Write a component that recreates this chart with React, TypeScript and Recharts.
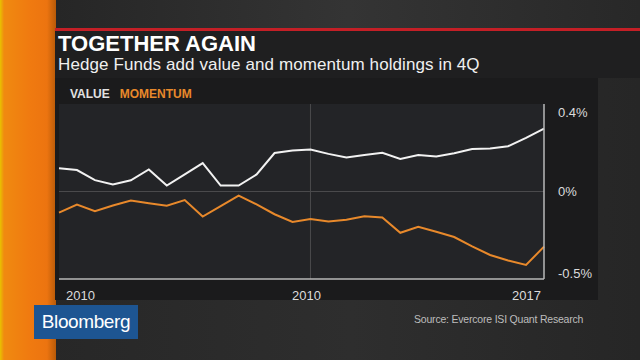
import React from "react";
import {
  LineChart,
  Line,
  XAxis,
  YAxis,
  CartesianGrid,
  ReferenceLine,
} from "recharts";

// Trimestres 2011 T1 .. 2017 T4 (28 points)
const quarters = [
  "1Q11", "2Q11", "3Q11", "4Q11",
  "1Q12", "2Q12", "3Q12", "4Q12",
  "1Q13", "2Q13", "3Q13", "4Q13",
  "1Q14", "2Q14", "3Q14", "4Q14",
  "1Q15", "2Q15", "3Q15", "4Q15",
  "1Q16", "2Q16", "3Q16", "4Q16",
  "1Q17", "2Q17", "3Q17", "4Q17",
];

const valueSeries = [
  0.106, 0.098, 0.052, 0.032, 0.051, 0.101, 0.027, 0.078,
  0.13, 0.027, 0.027, 0.078, 0.176, 0.187, 0.192, 0.172,
  0.155, 0.167, 0.177, 0.149, 0.167, 0.16, 0.175, 0.194,
  0.197, 0.207, 0.245, 0.287,
];

const momentumSeries = [
  -0.121, -0.075, -0.113, -0.08, -0.051, -0.067, -0.081, -0.049,
  -0.143, -0.083, -0.023, -0.074, -0.13, -0.174, -0.157, -0.171,
  -0.162, -0.142, -0.149, -0.236, -0.202, -0.23, -0.26, -0.314,
  -0.363, -0.394, -0.42, -0.315,
];

const xTickIndex = [0, 14, 27];
const xTickLabels = ["2010", "2010", "2017"];
const valueTicks = [0, 0.4];
const momentumTicks = [-0.5];

const data = quarters.map((q, i) => ({
  q,
  value: valueSeries[i],
  momentum: momentumSeries[i],
}));

const FONT = "'Liberation Sans', Arial, sans-serif";

function XTick(props: any) {
  const { x, y, payload } = props;
  const idx = xTickIndex.indexOf(quarters.indexOf(payload.value));
  if (idx < 0) return null;
  const anchor = idx === 0 ? "start" : idx === xTickIndex.length - 1 ? "end" : "middle";
  const dx = idx === 0 ? 7 : idx === xTickIndex.length - 1 ? -3 : -4;
  return (
    <text
      x={x + dx}
      y={y + 13}
      textAnchor={anchor}
      fill="#dcdcdc"
      fontSize={13}
      fontFamily={FONT}
    >
      {xTickLabels[idx]}
    </text>
  );
}

function YTick(props: any) {
  const { x, y, payload } = props;
  const v = payload.value;
  // étiquettes extrêmes rentrées dans la zone
  const dy = v > 0 ? 8 : v < 0 ? -6 : 0;
  return (
    <text
      x={x}
      y={y + dy}
      dy="0.35em"
      textAnchor="start"
      fill="#dcdcdc"
      fontSize={13}
      fontFamily={FONT}
    >
      {`${v}%`}
    </text>
  );
}

export default function App() {
  return (
    <div
      style={{
        position: "absolute",
        left: 0,
        top: 0,
        width: 640,
        height: 360,
        overflow: "hidden",
        background: "linear-gradient(90deg, #262626 0%, #2e2e2e 55%, #262626 100%)",
        fontFamily: FONT,
      }}
    >
      {/* bande orange à gauche */}
      <div
        style={{
          position: "absolute",
          left: 0,
          top: 0,
          width: 56,
          height: 360,
          background:
            "linear-gradient(90deg, #e8c200 0px, #f08a10 4px, #f07a10 30px, #ec7410 47px, #b85a08 56px)",
        }}
      />
      {/* haut texturé */}
      <div
        style={{
          position: "absolute",
          left: 56,
          top: 0,
          width: 584,
          height: 28,
          background: "linear-gradient(90deg, #262626, #343434 50%, #282828)",
        }}
      />
      {/* bande du titre */}
      <div
        style={{
          position: "absolute",
          left: 55,
          top: 28,
          width: 585,
          height: 50,
          background: "#1f1f20",
          borderTop: "3px solid #c41f26",
          boxSizing: "border-box",
        }}
      />
      <div
        style={{
          position: "absolute",
          left: 58,
          top: 31,
          color: "#ffffff",
          fontSize: 22,
          fontWeight: "bold",
        }}
      >
        TOGETHER AGAIN
      </div>
      <div
        style={{
          position: "absolute",
          left: 58,
          top: 55,
          color: "#f0f0f0",
          fontSize: 17,
          letterSpacing: 0.1,
        }}
      >
        Hedge Funds add value and momentum holdings in 4Q
      </div>
      {/* panneau du graphique */}
      <div
        style={{
          position: "absolute",
          left: 55,
          top: 78,
          width: 543,
          height: 222,
          background: "#1b1b1c",
        }}
      />
      <div
        style={{
          position: "absolute",
          left: 70,
          top: 87,
          fontSize: 12,
          fontWeight: "bold",
          whiteSpace: "nowrap",
        }}
      >
        <span style={{ color: "#e2e2e2" }}>VALUE</span>
        <span style={{ color: "#e8892b", marginLeft: 10 }}>MOMENTUM</span>
      </div>
      <div style={{ position: "absolute", left: 0, top: 0 }}>
        <LineChart
          width={640}
          height={360}
          data={data}
          margin={{ top: 104, left: 59, right: 35, bottom: 51 }}
        >
          <CartesianGrid
            horizontal={false}
            vertical={false}
            fill="#232427"
            stroke="none"
          />
          <XAxis
            dataKey="q"
            height={30}
            ticks={xTickIndex.map((i) => quarters[i])}
            tick={<XTick />}
            tickLine={false}
            axisLine={{ stroke: "#b8b8b8", strokeWidth: 1.5 }}
            interval={0}
          />
          <YAxis
            yAxisId="mom"
            orientation="right"
            domain={[-0.5, 0.5]}
            ticks={momentumTicks}
            tick={<YTick />}
            tickLine={false}
            axisLine={{ stroke: "#b8b8b8", strokeWidth: 1.5 }}
            width={1}
            tickMargin={8}
          />
          <YAxis
            yAxisId="val"
            orientation="right"
            domain={[-0.4, 0.4]}
            ticks={valueTicks}
            tick={<YTick />}
            tickLine={false}
            axisLine={false}
            width={60}
            tickMargin={7}
          />
          <ReferenceLine yAxisId="val" y={0} stroke="#4a4a4c" strokeWidth={1} />
          <ReferenceLine yAxisId="val" x={quarters[14]} stroke="#4a4a4c" strokeWidth={1} />
          <Line
            yAxisId="val"
            dataKey="value"
            stroke="#f2f2f2"
            strokeWidth={2}
            dot={false}
            isAnimationActive={false}
          />
          <Line
            yAxisId="mom"
            dataKey="momentum"
            stroke="#e8892b"
            strokeWidth={2}
            dot={false}
            isAnimationActive={false}
          />
        </LineChart>
      </div>
      {/* logo et source */}
      <div
        style={{
          position: "absolute",
          left: 34,
          top: 305,
          width: 104,
          height: 34,
          background: "#1d5592",
          color: "#ffffff",
          fontSize: 19,
          letterSpacing: -0.4,
          lineHeight: "34px",
          textAlign: "center",
        }}
      >
        Bloomberg
      </div>
      <div
        style={{
          position: "absolute",
          left: 414,
          top: 313,
          color: "#bdbdbd",
          fontSize: 10.5,
          letterSpacing: -0.2,
        }}
      >
        Source: Evercore ISI Quant Research
      </div>
    </div>
  );
}
